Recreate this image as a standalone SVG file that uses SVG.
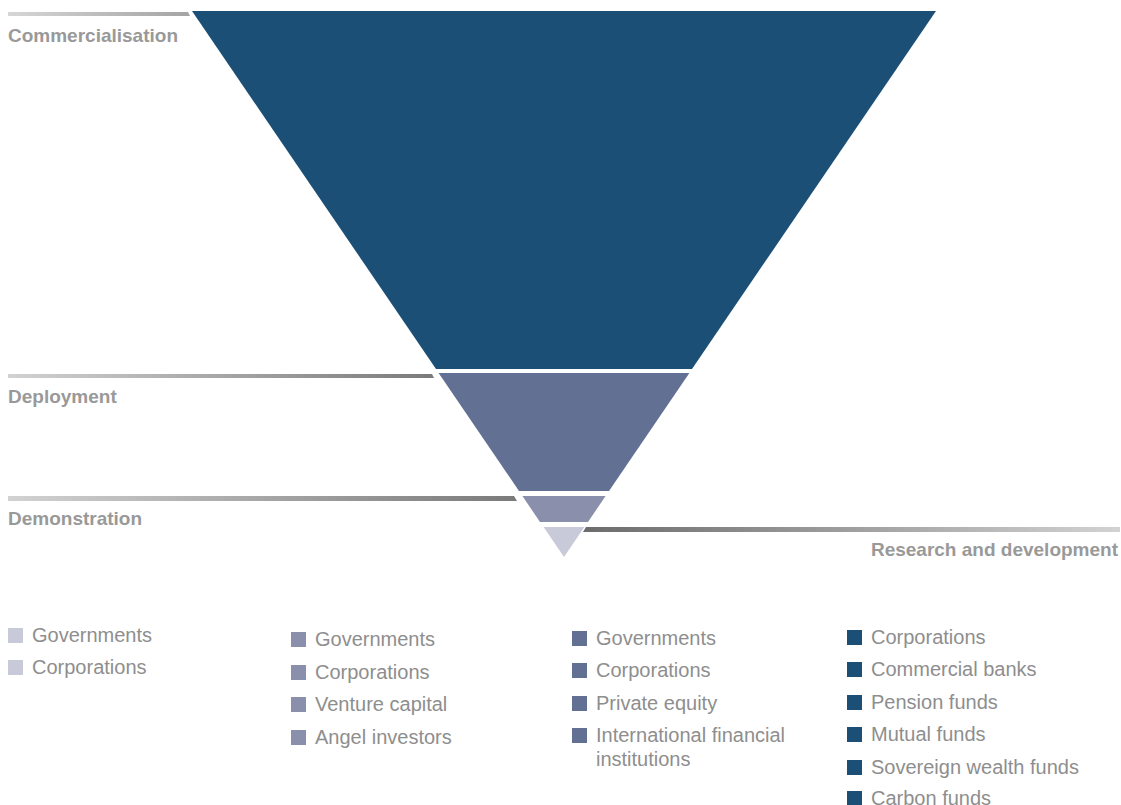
<svg xmlns="http://www.w3.org/2000/svg" width="1121" height="805" viewBox="0 0 1121 805">
  <defs>
    <linearGradient id="gL1" x1="0" y1="0" x2="1" y2="0">
      <stop offset="0" stop-color="#d6d6d6"/>
      <stop offset="1" stop-color="#a4a4a4"/>
    </linearGradient>
    <linearGradient id="gL2" x1="0" y1="0" x2="1" y2="0">
      <stop offset="0" stop-color="#d2d2d2"/>
      <stop offset="1" stop-color="#7a7a7a"/>
    </linearGradient>
    <linearGradient id="gR" x1="0" y1="0" x2="1" y2="0">
      <stop offset="0" stop-color="#6c6c6c"/>
      <stop offset="1" stop-color="#d2d2d2"/>
    </linearGradient>
    <style>
      .stage { font-family: "Liberation Sans", Arial, sans-serif; font-weight: bold; font-size: 19px; fill: #999999; }
      .leg { font-family: "Liberation Sans", Arial, sans-serif; font-size: 20px; fill: #8e8e8e; }
      .c1 { fill: #c8cad9; }
      .c2 { fill: #8a90ab; }
      .c3 { fill: #627093; }
      .c4 { fill: #1c4f76; }
    </style>
  </defs>

  <g id="connectors">
    <polygon points="8,12 188,12 190,16 8,16" fill="url(#gL1)"/>
    <polygon points="8,374 432,374 434,378 8,378" fill="url(#gL2)"/>
    <polygon points="8,496 514,496 517,501 8,501" fill="url(#gL2)"/>
    <polygon points="586,527 1120,527 1120,532 583,532" fill="url(#gR)"/>
  </g>

  <g id="commercialisation">
    <polygon class="c4" points="192,11 936,11 692,369 436,369"/>
    <text class="stage" x="8" y="42">Commercialisation</text>
  </g>
  <g id="deployment">
    <polygon class="c3" points="438.6,373 689.4,373 609,491 519,491"/>
    <text class="stage" x="8" y="403">Deployment</text>
  </g>
  <g id="demonstration">
    <polygon class="c2" points="522.4,496 605.6,496 588,522 540,522"/>
    <text class="stage" x="8" y="525">Demonstration</text>
  </g>
  <g id="research">
    <polygon class="c1" points="543.6,527 584.4,527 564,557"/>
    <text class="stage" x="1118" y="556" text-anchor="end">Research and development</text>
  </g>

  <g id="legend-research">
    <rect class="c1" x="8" y="628" width="15" height="15"/>
    <text class="leg" x="32" y="642">Governments</text>
    <rect class="c1" x="8" y="660" width="15" height="15"/>
    <text class="leg" x="32" y="674">Corporations</text>
  </g>

  <g id="legend-demonstration">
    <rect class="c2" x="291" y="632" width="15" height="15"/>
    <text class="leg" x="315" y="646">Governments</text>
    <rect class="c2" x="291" y="665" width="15" height="15"/>
    <text class="leg" x="315" y="679">Corporations</text>
    <rect class="c2" x="291" y="697" width="15" height="15"/>
    <text class="leg" x="315" y="711">Venture capital</text>
    <rect class="c2" x="291" y="730" width="15" height="15"/>
    <text class="leg" x="315" y="744">Angel investors</text>
  </g>

  <g id="legend-deployment">
    <rect class="c3" x="572" y="631" width="15" height="15"/>
    <text class="leg" x="596" y="645">Governments</text>
    <rect class="c3" x="572" y="663" width="15" height="15"/>
    <text class="leg" x="596" y="677">Corporations</text>
    <rect class="c3" x="572" y="696" width="15" height="15"/>
    <text class="leg" x="596" y="710">Private equity</text>
    <rect class="c3" x="572" y="728" width="15" height="15"/>
    <text class="leg" x="596" y="742">International financial</text>
    <text class="leg" x="596" y="766">institutions</text>
  </g>

  <g id="legend-commercialisation">
    <rect class="c4" x="847" y="630" width="15" height="15"/>
    <text class="leg" x="871" y="644">Corporations</text>
    <rect class="c4" x="847" y="662" width="15" height="15"/>
    <text class="leg" x="871" y="676">Commercial banks</text>
    <rect class="c4" x="847" y="695" width="15" height="15"/>
    <text class="leg" x="871" y="709">Pension funds</text>
    <rect class="c4" x="847" y="727" width="15" height="15"/>
    <text class="leg" x="871" y="741">Mutual funds</text>
    <rect class="c4" x="847" y="760" width="15" height="15"/>
    <text class="leg" x="871" y="774">Sovereign wealth funds</text>
    <rect class="c4" x="847" y="791" width="15" height="15"/>
    <text class="leg" x="871" y="805">Carbon funds</text>
  </g>
</svg>
